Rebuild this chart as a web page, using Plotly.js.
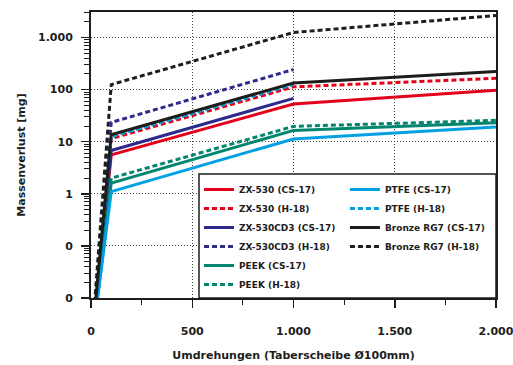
<!DOCTYPE html>
<html>
<head>
<meta charset="utf-8">
<script src="https://cdn.plot.ly/plotly-3.0.1.min.js"></script>
<style>
  html, body { margin: 0; padding: 0; background: #fff; }
  #chart { width: 513px; height: 365px; }
</style>
</head>
<body>
<div id="chart"></div>
<script>
// Umdrehungen (Taberscheibe Ø100mm)
const revs = [0, 100, 1000, 2000];

// Massenverlust [mg] je Werkstoff und Reibrad
const zx530Cs17   = [0.001, 5.6, 53, 97];
const zx530H18    = [0.001, 11.5, 113, 165];
const zx530cd3Cs17 = [0.001, 6.8, 68];
const zx530cd3H18  = [0.001, 23.5, 243];
const peekCs17    = [0.001, 1.6, 16.5, 23];
const peekH18     = [0.001, 2.0, 19.7, 25.7];
const ptfeCs17    = [0.001, 1.1, 11.3, 19.1];
const ptfeH18     = [0.001, 12.5, 125];
const bronzeCs17  = [0.001, 13.6, 134, 222];
const bronzeH18   = [0.001, 125, 1250, 2650];

const xTickVals = [0, 500, 1000, 1500, 2000];
const xTickText = ['0', '500', '1.000', '1.500', '2.000'];
const xMinorVals = [250, 750, 1250, 1750];
const yTickVals = [0.01, 0.1, 1, 10, 100, 1000];
const yTickText = ['0', '0', '1', '10', '100', '1.000'];

// minor log ticks 2..9 inside every decade shown
const yMinorVals = [];
yTickVals.forEach(function (d) {
  for (let k = 2; k <= 9; k++) yMinorVals.push(+(d * k).toPrecision(3));
});

const RED = '#e2001a', NAVY = '#2e2a8c', TEAL = '#00866e', CYAN = '#00a0e3', BLACK = '#1d1d1b';
const DOT = '5px,3px';
const W = 3;

function series(name, y, color, dotted, legend) {
  return {
    type: 'scatter', mode: 'lines', name: name,
    x: revs.slice(0, y.length), y: y,
    line: { color: color, width: W, dash: dotted ? DOT : 'solid' },
    legend: legend, hoverinfo: 'skip'
  };
}

const data = [
  series('ZX-530 (CS-17)', zx530Cs17, RED, false, 'legend'),
  series('ZX-530 (H-18)', zx530H18, RED, true, 'legend'),
  series('ZX-530CD3 (CS-17)', zx530cd3Cs17, NAVY, false, 'legend'),
  series('ZX-530CD3 (H-18)', zx530cd3H18, NAVY, true, 'legend'),
  series('PEEK (CS-17)', peekCs17, TEAL, false, 'legend'),
  series('PEEK (H-18)', peekH18, TEAL, true, 'legend'),
  series('PTFE (CS-17)', ptfeCs17, CYAN, false, 'legend2'),
  series('PTFE (H-18)', ptfeH18, CYAN, true, 'legend2'),
  series('Bronze RG7 (CS-17)', bronzeCs17, BLACK, false, 'legend2'),
  series('Bronze RG7 (H-18)', bronzeH18, BLACK, true, 'legend2')
];

const FONT = 'DejaVu Sans, Arial, sans-serif';
const INK = '#1d1d1b';
const legendCommon = {
  yanchor: 'top', xanchor: 'left', y: 0.43,
  bgcolor: 'rgba(0,0,0,0)', borderwidth: 0,
  font: { family: FONT, size: 9, color: INK, weight: 'bold' },
  tracegroupgap: 0, traceorder: 'normal'
};

const GRIDDASH = '1px,2px';
const X_RANGE = [0, 2000];
const Y_RANGE = [-2, 3.49];

const layout = {
  width: 513, height: 365,
  margin: { l: 91, r: 17, t: 12, b: 67 },
  paper_bgcolor: '#fff', plot_bgcolor: '#fff',
  font: { family: FONT, color: INK, weight: 'bold' },
  showlegend: true,
  xaxis: {
    range: X_RANGE,
    tickmode: 'array', tickvals: xTickVals, ticktext: xTickText,
    ticks: 'outside', ticklen: 8, tickwidth: 1.5, tickcolor: INK,
    ticklabelstandoff: 14, ticklabeloverflow: 'allow',
    minor: { tickmode: 'array', tickvals: xMinorVals, ticks: 'outside', ticklen: 5, tickwidth: 1, tickcolor: INK, showgrid: false },
    showline: true, linecolor: INK, linewidth: 2, mirror: true,
    showgrid: true, gridcolor: '#444', gridwidth: 1, griddash: GRIDDASH,
    zeroline: false,
    tickfont: { family: FONT, size: 11, weight: 'bold' },
    title: { text: 'Umdrehungen (Taberscheibe Ø100mm)', font: { family: FONT, size: 11, weight: 'bold' }, standoff: 14 }
  },
  yaxis: {
    type: 'log', range: Y_RANGE,
    tickmode: 'array', tickvals: yTickVals, ticktext: yTickText,
    ticks: 'outside', ticklen: 8, tickwidth: 1.5, tickcolor: INK,
    ticklabelstandoff: 6,
    minor: { tickmode: 'array', tickvals: yMinorVals, ticks: 'outside', ticklen: 5, tickwidth: 1, tickcolor: INK, showgrid: false },
    showline: true, linecolor: INK, linewidth: 2, mirror: true,
    showgrid: true, gridcolor: '#444', gridwidth: 1, griddash: GRIDDASH,
    zeroline: false,
    tickfont: { family: FONT, size: 11, weight: 'bold' },
    title: { text: 'Massenverlust [mg]', font: { family: FONT, size: 11, weight: 'bold' }, standoff: 10 }
  },
  legend: Object.assign({}, legendCommon, { x: 0.2667 }),
  legend2: Object.assign({}, legendCommon, { x: 0.627 }),
  shapes: [{
    type: 'rect', xref: 'paper', yref: 'paper',
    x0: 0.2667, x1: 1, y0: 0, y1: 0.4336,
    line: { color: INK, width: 1.5 }, fillcolor: '#fff', layer: 'above'
  }]
};

Plotly.newPlot('chart', data, layout, { displayModeBar: false, staticPlot: true });
</script>
</body>
</html>
